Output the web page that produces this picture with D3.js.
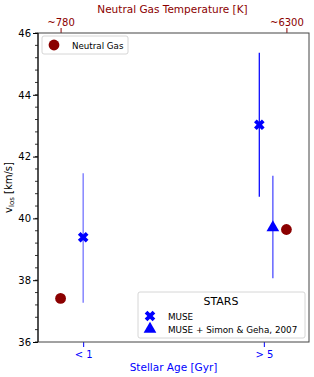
<!DOCTYPE html>
<html>
<head>
<meta charset="utf-8">
<script src="https://cdn.jsdelivr.net/npm/d3@7"></script>
<style>
  body { margin: 0; background: #fff; }
  svg { font-family: "DejaVu Sans", sans-serif; }
</style>
</head>
<body>
<div id="chart"></div>
<script>
// categories along the bottom axis
var ageLabels = ['< 1', '> 5'];
var agePos = [0, 1];

// neutral gas (top axis labels and points)
var gasLabels = ['~780', '~6300'];
var gasPos = [-0.125, 1.125];
var gasV = [37.41, 39.64];

// MUSE stars
var musePos = [0, 0.975];
var museV = [39.39, 43.03];
var museLo = [37.27, 40.70];
var museHi = [41.46, 45.36];

// MUSE + Simon & Geha 2007
var simonPos = [1.05];
var simonV = [39.67];
var simonLo = [38.06];
var simonHi = [41.38];

var width = 314, height = 377;
var margin = { top: 33, right: 5, bottom: 35, left: 38 };
var innerW = width - margin.left - margin.right,
    innerH = height - margin.top - margin.bottom;

var svg = d3.select('#chart').append('svg')
  .attr('width', width)
  .attr('height', height);

var g = svg.append('g')
  .attr('transform', 'translate(' + margin.left + ',' + margin.top + ')');

var x = d3.scaleLinear().domain([-0.25, 1.25]).range([0, innerW]);
var y = d3.scaleLinear().domain([36, 46]).range([innerH, 0]);

// y axis, major + minor ticks
var yMinor = d3.range(36, 46.01, 0.4);
g.selectAll('.yminor').data(yMinor).enter().append('line')
  .attr('x1', -3).attr('x2', 0)
  .attr('y1', function(d) { return y(d); })
  .attr('y2', function(d) { return y(d); })
  .attr('stroke', '#000').attr('stroke-width', 0.8);

function styleAxis(ax, color) {
  ax.attr('font-size', 10).attr('font-family', 'DejaVu Sans');
  ax.select('.domain').remove();
  ax.selectAll('line').attr('stroke', color);
  ax.selectAll('text').attr('fill', color);
}

var yAxis = g.append('g')
  .call(d3.axisLeft(y).tickValues([36, 38, 40, 42, 44, 46]).tickSize(5).tickPadding(2).tickFormat(d3.format('d')));
styleAxis(yAxis, '#000');

// bottom axis (blue)
var xAxis = g.append('g')
  .attr('transform', 'translate(0,' + innerH + ')')
  .call(d3.axisBottom(x).tickValues(agePos).tickSize(5).tickPadding(4)
    .tickFormat(function(d, i) { return ageLabels[i]; }));
styleAxis(xAxis, 'blue');

// top axis (dark red)
var topAxis = g.append('g')
  .call(d3.axisTop(x).tickValues(gasPos).tickSize(5).tickPadding(2)
    .tickFormat(function(d, i) { return gasLabels[i]; }));
styleAxis(topAxis, 'darkred');

// frame
g.append('rect')
  .attr('width', innerW).attr('height', innerH)
  .attr('fill', 'none').attr('stroke', '#444').attr('stroke-width', 1);
g.append('line').attr('x1', 0).attr('x2', 0).attr('y1', 0).attr('y2', innerH)
  .attr('stroke', '#000').attr('stroke-width', 1);

// error bars
function errBars(pos, lo, hi, color, op) {
  g.selectAll(null).data(pos).enter().append('line')
    .attr('x1', function(d) { return x(d); })
    .attr('x2', function(d) { return x(d); })
    .attr('y1', function(d, i) { return y(lo[i]); })
    .attr('y2', function(d, i) { return y(hi[i]); })
    .attr('stroke', color)
    .attr('stroke-opacity', function(d, i) { return op[i]; })
    .attr('stroke-width', 1.3);
}
errBars(musePos, museLo, museHi, 'blue', [0.55, 0.95]);
errBars(simonPos, simonLo, simonHi, 'blue', [0.7]);

// filled X marker: a plus rotated 45 degrees
var xPath = (function() {
  var a = 1.9, b = 5.6;
  var pts = [[-a, -b], [a, -b], [a, -a], [b, -a], [b, a], [a, a],
             [a, b], [-a, b], [-a, a], [-b, a], [-b, -a], [-a, -a]];
  var c = Math.SQRT1_2;
  return 'M' + pts.map(function(p) {
    return [(p[0] - p[1]) * c, (p[0] + p[1]) * c].join(',');
  }).join('L') + 'Z';
})();
var triPath = d3.symbol().type(d3.symbolTriangle).size(70)();

g.selectAll('.muse').data(musePos).enter().append('path')
  .attr('d', xPath)
  .attr('transform', function(d, i) { return 'translate(' + x(d) + ',' + y(museV[i]) + ')'; })
  .attr('fill', 'blue');

g.selectAll('.simon').data(simonPos).enter().append('path')
  .attr('d', triPath)
  .attr('transform', function(d, i) { return 'translate(' + x(d) + ',' + (y(simonV[i]) - 1) + ')'; })
  .attr('fill', 'blue');

g.selectAll('.gas').data(gasPos).enter().append('circle')
  .attr('cx', function(d) { return x(d); })
  .attr('cy', function(d, i) { return y(gasV[i]); })
  .attr('r', 5.4)
  .attr('fill', 'darkred');

// axis labels
svg.append('text')
  .attr('x', margin.left + x(0.5)).attr('y', 371)
  .attr('text-anchor', 'middle').attr('font-size', 10.5).attr('fill', 'blue')
  .text('Stellar Age [Gyr]');

svg.append('text')
  .attr('x', margin.left + x(0.5) - 1).attr('y', 13)
  .attr('text-anchor', 'middle').attr('font-size', 10.5).attr('fill', 'darkred')
  .text('Neutral Gas Temperature [K]');

var yl = svg.append('text')
  .attr('transform', 'translate(12,' + (margin.top + innerH / 2) + ') rotate(-90)')
  .attr('text-anchor', 'middle').attr('font-size', 10).attr('fill', '#000');
yl.append('tspan').text('v');
yl.append('tspan').attr('font-size', 7).attr('dy', 2).text('los');
yl.append('tspan').attr('dy', -2).text(' [km/s]');

// legend: neutral gas
var lg1 = g.append('g').attr('transform', 'translate(4,3)');
lg1.append('rect').attr('width', 86).attr('height', 18).attr('rx', 2)
  .attr('fill', '#fff').attr('stroke', '#ccc').attr('stroke-width', 0.8);
lg1.append('circle').attr('cx', 12).attr('cy', 9).attr('r', 5.4).attr('fill', 'darkred');
lg1.append('text').attr('x', 30).attr('y', 12.5).attr('font-size', 8.7).attr('fill', '#000').text('Neutral Gas');

// legend: stars
var lg2 = g.append('g').attr('transform', 'translate(' + (innerW - 171) + ',' + (innerH - 50) + ')');
lg2.append('rect').attr('width', 167).attr('height', 46).attr('rx', 2)
  .attr('fill', '#fff').attr('stroke', '#ccc').attr('stroke-width', 0.8);
lg2.append('text').attr('x', 83).attr('y', 13).attr('text-anchor', 'middle')
  .attr('font-size', 11).attr('fill', '#000').text('STARS');
lg2.append('path').attr('d', xPath).attr('transform', 'translate(12,24)').attr('fill', 'blue');
lg2.append('path').attr('d', triPath).attr('transform', 'translate(12,37)').attr('fill', 'blue');
lg2.append('text').attr('x', 30).attr('y', 27.5).attr('font-size', 8.8).attr('fill', '#000').text('MUSE');
lg2.append('text').attr('x', 30).attr('y', 41).attr('font-size', 8.8).attr('fill', '#000').text('MUSE + Simon & Geha, 2007');
</script>
</body>
</html>
